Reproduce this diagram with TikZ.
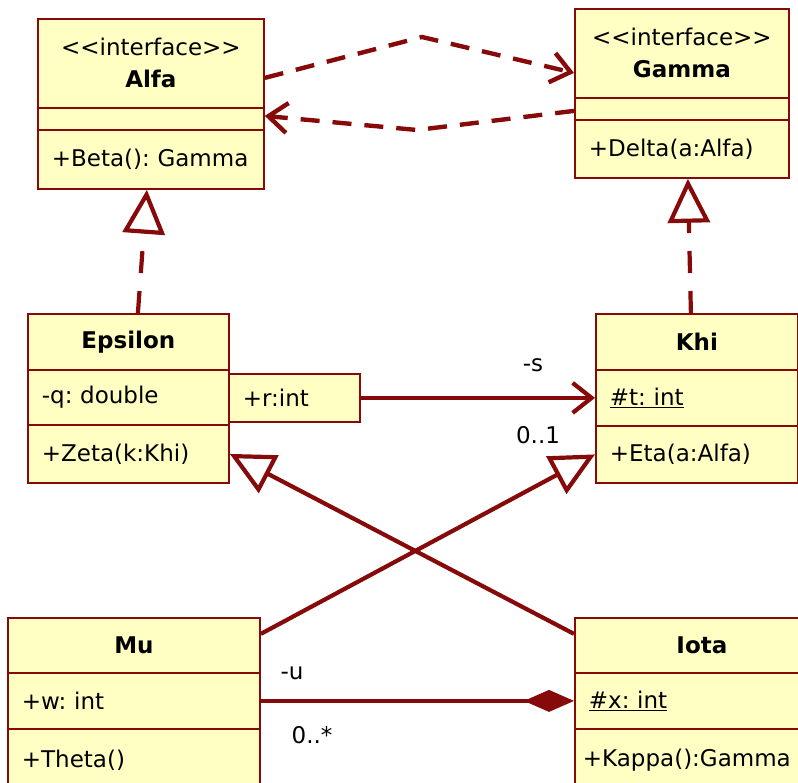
\documentclass[tikz,border=0pt]{standalone}
\usepackage{fontspec}
\setmainfont{DejaVu Sans}
\usetikzlibrary{arrows.meta}
\definecolor{umlred}{RGB}{135,10,10}
\definecolor{umlfill}{RGB}{255,255,196}
\frenchspacing

\begin{document}
\begin{tikzpicture}[x=1pt,y=-1pt,
  umlbox/.style={draw=umlred, fill=umlfill, line width=1.8pt, anchor=north west,
    inner xsep=14pt, inner ysep=0pt, align=left, font=\fontsize{23}{32}\selectfont},
  umlhead/.style={umlbox, align=center},
  umllabel/.style={font=\fontsize{23}{28}\selectfont, inner sep=0pt},
  dep/.style={draw=umlred, line width=4.4pt, dash pattern=on 19pt off 13pt,
    -{Straight Barb[length=19pt,width=30pt]}},
  assoc/.style={draw=umlred, line width=4.2pt, -{Straight Barb[length=19pt,width=30pt]}},
  inherit/.style={draw=umlred, line width=4.2pt, -{Triangle[open,length=44pt,width=42pt,fill=white]}},
  realize/.style={inherit, dash pattern=on 22pt off 18pt},
  compose/.style={draw=umlred, line width=4.2pt, -{Diamond[length=50pt,width=22pt,fill=umlred]}}]
\useasboundingbox (0,0) rectangle (798,783);
\clip (0,0) rectangle (798,783);

% interfaces
\node[umlhead, text width=198pt, minimum height=89pt] (alfa-name) at (37,18) {<\kern0pt<interface>\kern0pt>\\\textbf{Alfa}};
\node[umlbox, text width=198pt, minimum height=22pt] (alfa-attr) at (37,107) {};
\node[umlbox, text width=198pt, minimum height=59pt] (alfa-ops) at (37,129) {+Beta(): Gamma};

\node[umlhead, text width=186pt, minimum height=89pt] (gamma-name) at (574,8) {<\kern0pt<interface>\kern0pt>\\\textbf{Gamma}};
\node[umlbox, text width=186pt, minimum height=22pt] (gamma-attr) at (574,97) {};
\node[umlbox, text width=186pt, minimum height=58pt] (gamma-ops) at (574,119) {+Delta(a:Alfa)};

% classes
\node[umlhead, text width=173pt, minimum height=56pt] (epsilon-name) at (27,313) {\textbf{Epsilon}};
\node[umlbox, text width=173pt, minimum height=55pt] (epsilon-attr) at (27,369) {-q: double};
\node[umlbox, text width=173pt, minimum height=58pt] (epsilon-ops) at (27,424) {+Zeta(k:Khi)};
\node[umlbox, text width=103pt, minimum height=48pt] (rint) at (228,373) {+r:int};

\node[umlhead, text width=174pt, minimum height=56pt] (khi-name) at (595,313) {\textbf{Khi}};
\node[umlbox, text width=174pt, minimum height=56pt] (khi-attr) at (595,369) {\underline{\#t: int}};
\node[umlbox, text width=174pt, minimum height=57pt] (khi-ops) at (595,425) {+Eta(a:Alfa)};

\node[umlhead, text width=224pt, minimum height=55pt] (mu-name) at (7,617) {\textbf{Mu}};
\node[umlbox, text width=224pt, minimum height=56pt] (mu-attr) at (7,672) {+w: int};
\node[umlbox, text width=224pt, minimum height=62pt] (mu-ops) at (7,728) {+Theta()};

\node[umlhead, text width=226pt, minimum height=55pt] (iota-name) at (574,617) {\textbf{Iota}};
\node[umlbox, text width=226pt, minimum height=56pt] (iota-attr) at (574,672) {\underline{\#x: int}};
\node[umlbox, text width=232pt, minimum height=62pt, inner xsep=8pt] (iota-ops) at (574,728) {+Kappa():Gamma};

% dependencies between the interfaces
\coordinate (topbend) at (422,37);
\coordinate (lowbend) at (417,130);
\draw[dep] ([yshift=-14.5pt]alfa-name.east) -- (topbend) -- ([yshift=-19.5pt]gamma-name.west);
\draw[dep] ([yshift=-2pt]gamma-attr.west) -- (lowbend) -- ([yshift=3pt]alfa-attr.east);

% realizations
\draw[realize] ([xshift=9.5pt]epsilon-name.north) -- ([xshift=-4pt]alfa-ops.south);
\draw[realize] ([xshift=-6pt]khi-name.north) -- ([xshift=6pt]gamma-ops.south);

% association
\draw[assoc] (rint.east) -- (khi-attr.west);
\node[umllabel] (lbl-s) at (533,365) {-s};
\node[umllabel] (lbl-01) at (538,435) {0..1};

% generalizations
\draw[inherit] ([yshift=11.5pt]mu-name.east) -- (khi-ops.west);
\draw[inherit] ([yshift=11.5pt]iota-name.west) -- (epsilon-ops.east);

% composition
\draw[compose] (mu-attr.east) -- (iota-attr.west);
\node[umllabel] (lbl-u) at (292,673) {-u};
\node[umllabel] (lbl-0n) at (312,735) {0..*};
\end{tikzpicture}
\end{document}
